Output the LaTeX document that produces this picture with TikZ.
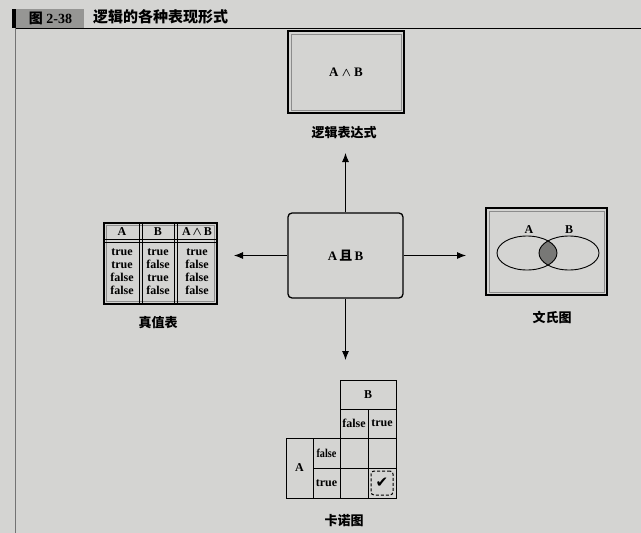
\documentclass[tikz,border=0pt]{standalone}
\usepackage{amsmath}
\usepackage{fontspec}
\setmainfont{Liberation Serif}
\newfontfamily\cjk{Noto Sans CJK SC}
\newfontfamily\symfont{DejaVu Sans}
\usetikzlibrary{arrows.meta}

\definecolor{paper}{RGB}{212,212,210}
\definecolor{tagfill}{RGB}{150,150,148}
\definecolor{lapfill}{RGB}{120,120,118}

\newcommand{\andsym}{$\boldsymbol{\wedge}$}

\tikzset{every picture/.style={line width=0.9pt}}
\tikzset{
  >={Latex[length=9pt,width=7pt]},
  caption/.style={inner sep=0.75pt, font=\cjk\bfseries\fontsize{13}{15}\selectfont},
  frame/.style={draw, line width=1.1pt, inner sep=0pt},
  inframe/.style={draw=black!45, line width=0.4pt},
  kcell/.style={draw, inner sep=0pt, font=\bfseries\fontsize{12}{13}\selectfont},
  tcol/.style={align=center, inner sep=0.75pt, font=\bfseries\fontsize{12}{13}\selectfont},
}

\begin{document}
\begin{tikzpicture}[x=1pt, y=1pt, yscale=-1, xscale=1]

    \fill [paper] (0,0) rectangle (641,533);
    \useasboundingbox (0,0) rectangle (641,533);

    % figure title
    \fill (12,9) rectangle (16,28);
    \node [fill=tagfill, anchor=west, minimum width=68, minimum height=19, inner sep=0pt]
          (tag) at (16,18.5) {\bfseries\fontsize{14}{16}\selectfont{\cjk 图} 2-38};
    \node [anchor=west, inner sep=0.75pt] (title) at (92,17)
          {\cjk\bfseries\fontsize{15}{17}\selectfont 逻辑的各种表现形式};
    \draw [line width=1pt] (16,28) -- (641,28);
    \draw [black!55, line width=0.6pt] (15,28) -- (15,533);

    % logic expression
    \node [frame, minimum width=116, minimum height=82] (expr) at (346,72)
          {\bfseries\fontsize{13}{15}\selectfont A \andsym{} B};
    \draw [inframe] (291,34) rectangle (401,110);
    \node [caption] (exprcap) at (344,133) {逻辑表达式};

    % centre
    \node [draw, rounded corners=4, line width=1.3pt, minimum width=115, minimum height=85]
          (centre) at (345.5,255.5) {\bfseries\fontsize{13}{15}\selectfont A\,{\cjk 且}\,B};

    % truth table
    \node [frame, minimum width=113, minimum height=81] (truth) at (160.5,263.5) {};
    \draw [inframe] (106.5,225.5) rectangle (214.5,301.5);
    \draw [line width=0.6pt] (104,239) -- (217,239);
    \draw [line width=0.6pt] (104,242) -- (217,242);
    \draw [line width=0.6pt] (139,223) -- (139,304);
    \draw [line width=0.6pt] (142,223) -- (142,304);
    \draw [line width=1pt] (174,223) -- (174,304);
    \draw [line width=1pt] (177,223) -- (177,304);
    \node [tcol] (hA)  at (122,232) {A};
    \node [tcol] (hB)  at (158,232) {B};
    \node [tcol] (hAB) at (197,232) {A\,\andsym\,B};
    \node [tcol] (cA)  at (122,271.5) {true\\true\\false\\false};
    \node [tcol] (cB)  at (158,271.5) {true\\false\\true\\false};
    \node [tcol] (cAB) at (197,271.5) {true\\false\\false\\false};
    \node [caption] (truthcap) at (158,323) {真值表};

    % venn diagram
    \node [frame, minimum width=121, minimum height=87] (venn) at (546.5,251.5) {};
    \draw [inframe] (489,211) rectangle (604,292);
    \begin{scope}
      \clip (527,253) ellipse [x radius=30, y radius=17];
      \fill [lapfill] (569,253) ellipse [x radius=30, y radius=17];
    \end{scope}
    \draw (527,253) ellipse [x radius=30, y radius=17];
    \draw (569,253) ellipse [x radius=30, y radius=17];
    \node [tcol] (vA) at (529,230) {A};
    \node [tcol] (vB) at (569,230) {B};
    \node [caption] (venncap) at (552,317) {文氏图};

    % karnaugh map
    \node [kcell, minimum width=56, minimum height=29] (kB)  at (368,394.5) {B};
    \node [kcell, minimum width=28, minimum height=29] (kBf) at (354,423.5) {false};
    \node [kcell, minimum width=28, minimum height=29] (kBt) at (382,423.5) {true};
    \node [kcell, minimum width=27, minimum height=60] (kA)  at (299.5,468) {A};
    \node [kcell, minimum width=27, minimum height=30] (kAf) at (326.5,453) {\scalebox{0.85}[1]{false}};
    \node [kcell, minimum width=27, minimum height=30] (kAt) at (326.5,483) {true};
    \node [kcell, minimum width=28, minimum height=30] (k11) at (354,453) {};
    \node [kcell, minimum width=28, minimum height=30] (k12) at (382,453) {};
    \node [kcell, minimum width=28, minimum height=30] (k21) at (354,483) {};
    \node [kcell, minimum width=28, minimum height=30] (k22) at (382,483) {};
    \node [draw, densely dashed, rounded corners=3, line width=1pt, minimum width=22, minimum height=24,
           inner sep=0pt] (tick) at (k22) {\symfont\fontsize{15}{15}\selectfont ✔};
    \node [caption] (karncap) at (344,521) {卡诺图};

    % arrows
    \coordinate (upend)    at (345.5,153);
    \coordinate (leftend)  at (234,255.5);
    \coordinate (rightend) at (466,255.5);
    \coordinate (downend)  at (345.5,360);
    \draw [->] (centre.north) -- (upend);
    \draw [->] (centre.west)  -- (leftend);
    \draw [->] (centre.east)  -- (rightend);
    \draw [->] (centre.south) -- (downend);

\end{tikzpicture}
\end{document}
